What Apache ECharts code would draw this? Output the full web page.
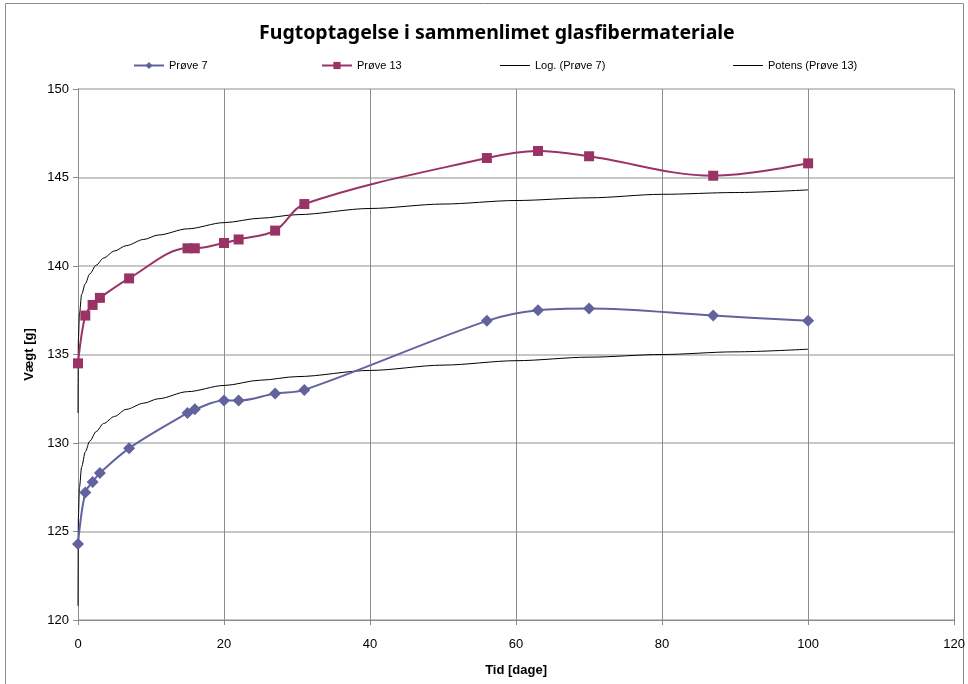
<!DOCTYPE html>
<html>
<head>
<meta charset="utf-8">
<script src="https://cdn.jsdelivr.net/npm/echarts@6/dist/echarts.min.js"></script>
<style>
  html, body { margin: 0; padding: 0; background: #fff; }
  #main { width: 968px; height: 684px; }
</style>
</head>
<body>
<div id="main"></div>
<script>
// Tid [dage] for maalingerne
var days = [0, 1, 2, 3, 7, 15, 16, 20, 22, 27, 31, 56, 63, 70, 87, 100];
// Vaegt [g]
var proeve7 = [124.3, 127.2, 127.8, 128.3, 129.7, 131.7, 131.9, 132.4, 132.4, 132.8, 133.0, 136.9, 137.5, 137.6, 137.2, 136.9];
var proeve13 = [134.5, 137.2, 137.8, 138.2, 139.3, 141.0, 141.0, 141.3, 141.5, 142.0, 143.5, 146.1, 146.5, 146.2, 145.1, 145.8];

// tendenslinjer, aflaest fra figuren
var trendX = [0.001, 0.05, 0.2, 0.5, 1, 1.6, 2.5, 3.5, 5, 6.6, 9, 11, 15, 20, 25, 30, 40, 50, 60, 70, 80, 90, 100];
var logProeve7 = [120.8, 125.8, 127.5, 128.65, 129.5, 130.1, 130.65, 131.1, 131.5, 131.9, 132.25, 132.5, 132.9, 133.25, 133.55, 133.75, 134.1, 134.4, 134.65, 134.85, 135.0, 135.15, 135.3];
var potProeve13 = [131.7, 135.8, 137.3, 138.4, 139.0, 139.55, 140.05, 140.45, 140.85, 141.15, 141.5, 141.75, 142.1, 142.45, 142.7, 142.9, 143.25, 143.5, 143.7, 143.85, 144.05, 144.15, 144.3];

var xTicks = [0, 20, 40, 60, 80, 100, 120];
var yTicks = [120, 125, 130, 135, 140, 145, 150];

function pairs(xs, ys) {
  return xs.map(function (x, i) { return [x, ys[i]]; });
}

var fnt = 'Liberation Sans Narrow, Liberation Sans, sans-serif';

var chart = echarts.init(document.getElementById('main'));

var legendBase = function (name, left, lineOnly) {
  var lg = {
    data: [name],
    left: left,
    top: 55,
    itemWidth: 30,
    itemHeight: 9,
    textStyle: { fontFamily: fnt, fontSize: 11, color: '#000' }
  };
  if (lineOnly) {
    lg.icon = 'rect';
    lg.itemHeight = 1;
  }
  return lg;
};

var option = {
  animation: false,
  backgroundColor: '#fff',
  title: {
    text: 'Fugtoptagelse i sammenlimet glasfibermateriale',
    left: 254,
    top: 18,
    textStyle: { fontFamily: 'Noto Sans, sans-serif', fontSize: 19.5, fontWeight: 'bold', color: '#000' }
  },
  legend: [
    legendBase('Prøve 7', 128),
    legendBase('Prøve 13', 316),
    legendBase('Log. (Prøve 7)', 495, true),
    legendBase('Potens (Prøve 13)', 728, true)
  ],
  graphic: [{
    type: 'rect',
    shape: { x: 5.5, y: 3.5, width: 958, height: 700 },
    style: { fill: 'none', stroke: '#8c8c8c', lineWidth: 1 },
    silent: true
  }],
  grid: { left: 78, right: 12, top: 89, bottom: 64 },
  xAxis: {
    type: 'value',
    min: xTicks[0],
    max: xTicks[xTicks.length - 1],
    interval: 20,
    name: 'Tid [dage]',
    nameLocation: 'middle',
    nameGap: 44,
    nameTextStyle: { fontFamily: fnt, fontSize: 13, fontWeight: 'bold', color: '#000' },
    axisLine: { lineStyle: { color: '#8c8c8c' } },
    axisTick: { show: true, length: 5, lineStyle: { color: '#8c8c8c' } },
    axisLabel: { margin: 18, fontFamily: fnt, fontSize: 13, color: '#000' },
    splitLine: { show: true, lineStyle: { color: '#8c8c8c', width: 1 } }
  },
  yAxis: {
    type: 'value',
    min: yTicks[0],
    max: yTicks[yTicks.length - 1],
    interval: 5,
    name: 'Vægt [g]',
    nameLocation: 'middle',
    nameGap: 42,
    nameTextStyle: { fontFamily: fnt, fontSize: 13, fontWeight: 'bold', color: '#000' },
    axisLine: { show: true, lineStyle: { color: '#8c8c8c' } },
    axisTick: { show: true, length: 5, lineStyle: { color: '#8c8c8c' } },
    axisLabel: { margin: 9, fontFamily: fnt, fontSize: 13, color: '#000' },
    splitLine: { show: true, lineStyle: { color: '#b4b4b4', width: 1.5 } }
  },
  series: [
    {
      name: 'Prøve 7',
      type: 'line',
      data: pairs(days, proeve7),
      smooth: 0.35,
      symbol: 'diamond',
      symbolSize: 12,
      itemStyle: { color: '#62639e' },
      lineStyle: { color: '#62639e', width: 2 },
      z: 3
    },
    {
      name: 'Prøve 13',
      type: 'line',
      data: pairs(days, proeve13),
      smooth: 0.35,
      symbol: 'rect',
      symbolSize: 10,
      itemStyle: { color: '#993366' },
      lineStyle: { color: '#993366', width: 2 },
      z: 3
    },
    {
      name: 'Log. (Prøve 7)',
      type: 'line',
      data: pairs(trendX, logProeve7),
      smooth: 0.3,
      smoothMonotone: 'x',
      symbol: 'none',
      itemStyle: { color: '#000' },
      lineStyle: { color: '#000', width: 1 },
      z: 2
    },
    {
      name: 'Potens (Prøve 13)',
      type: 'line',
      data: pairs(trendX, potProeve13),
      smooth: 0.3,
      smoothMonotone: 'x',
      symbol: 'none',
      itemStyle: { color: '#000' },
      lineStyle: { color: '#000', width: 1 },
      z: 2
    }
  ]
};

chart.setOption(option);
</script>
</body>
</html>
